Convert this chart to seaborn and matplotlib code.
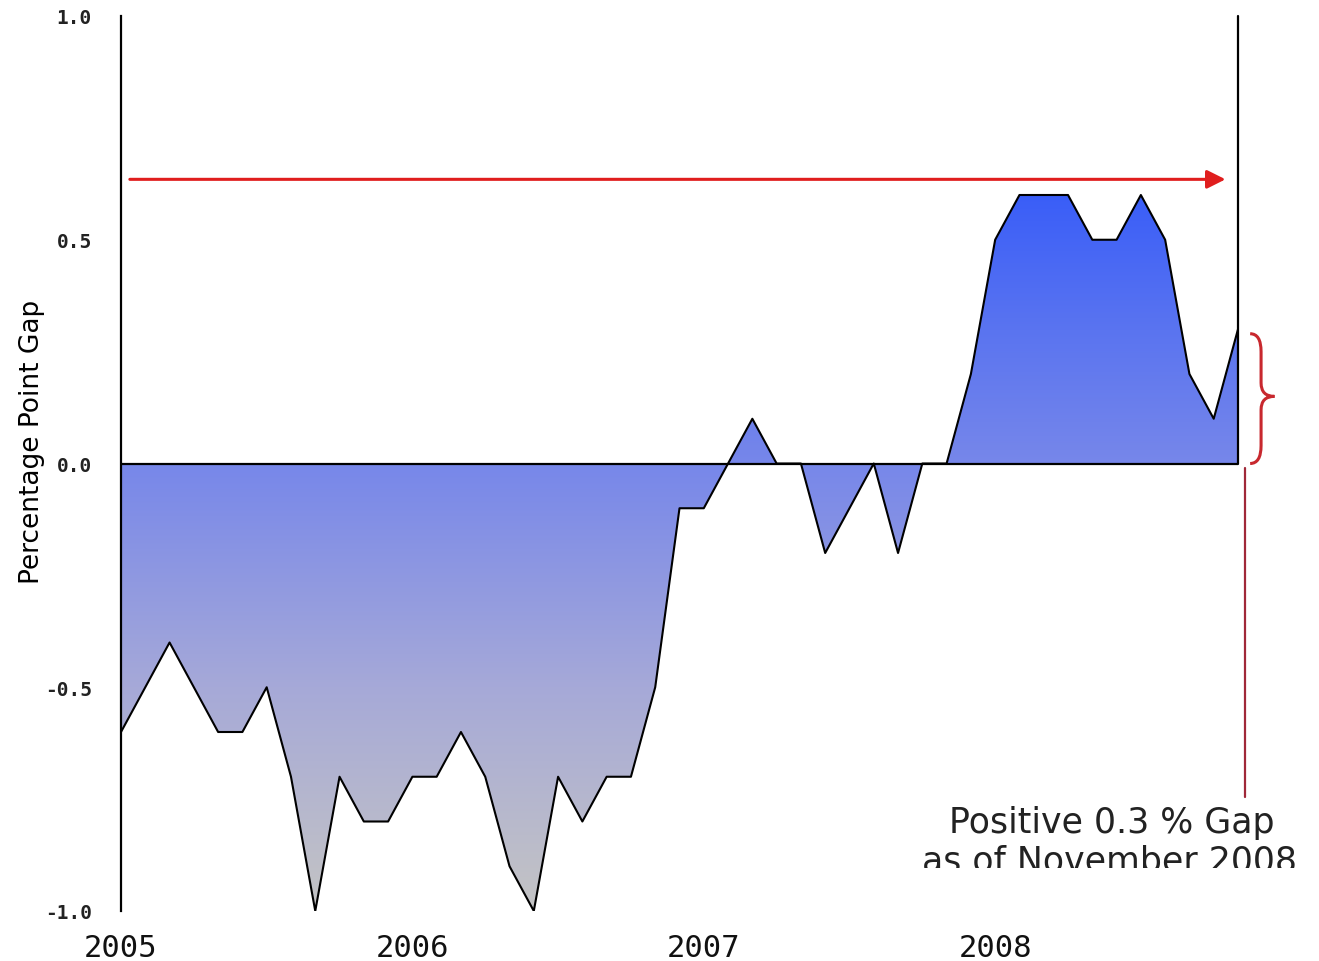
import numpy as np
import pandas as pd
import matplotlib
matplotlib.use("Agg")
import matplotlib.pyplot as plt
from matplotlib.colors import LinearSegmentedColormap
from matplotlib.patches import PathPatch, FancyArrowPatch
from matplotlib.path import Path
from matplotlib.transforms import Bbox
import seaborn as sns

# Monthly percentage-point gap, January 2005 through November 2008
gap = [-0.6, -0.5, -0.4, -0.5, -0.6, -0.6, -0.5, -0.7, -1.0, -0.7, -0.8, -0.8,
       -0.7, -0.7, -0.6, -0.7, -0.9, -1.0, -0.7, -0.8, -0.7, -0.7, -0.5, -0.1,
       -0.1, 0.0, 0.1, 0.0, 0.0, -0.2, -0.1, 0.0, -0.2, 0.0, 0.0, 0.2,
       0.5, 0.6, 0.6, 0.6, 0.5, 0.5, 0.6, 0.5, 0.2, 0.1, 0.3]
year_labels = ["2005", "2006", "2007", "2008"]
y_ticks = [1.0, 0.5, 0.0, -0.5, -1.0]
latest_gap = 0.3
arrow_level = 0.635

df = pd.DataFrame({"month": np.arange(len(gap)), "gap": gap})
n_last = len(gap) - 1

sns.set_theme(style="white")
plt.rcParams["font.family"] = ["DejaVu Sans"]

W, H = 1319, 962
fig = plt.figure(figsize=(W / 100, H / 100), dpi=100)
ax = fig.add_axes([121 / W, 50 / H, (1238 - 121) / W, (912 - 17) / H])
ax.set_xlim(0, n_last)
ax.set_ylim(-1.0, 1.0)

# Area between the series and zero, filled with a vertical blue-to-grey gradient
poly = ax.fill_between(df["month"], df["gap"], 0, facecolor="none",
                       edgecolor="none", zorder=1)
cmap = LinearSegmentedColormap.from_list(
    "gapfill",
    [(0.0, "#c4c4c4"), (0.3125, "#a6a9d8"), (0.625, "#7787ea"),
     (0.8125, "#5a74f0"), (1.0, "#3a5ef8")])
grad = np.linspace(0, 1, 256).reshape(-1, 1)
im = ax.imshow(grad, extent=[0, n_last, -1.0, 0.6], origin="lower",
               aspect="auto", cmap=cmap, zorder=1, interpolation="bilinear")
clip = PathPatch(poly.get_paths()[0], transform=ax.transData,
                 facecolor="none", edgecolor="none")
ax.add_patch(clip)
im.set_clip_path(clip)

# Outline of the series and the zero baseline
sns.lineplot(data=df, x="month", y="gap", ax=ax, color="black",
             linewidth=1.5, zorder=3)
ax.axhline(0, color="black", linewidth=1.6, zorder=3)
ax.plot([n_last, n_last], [0, 1.0], color="black", linewidth=1.6,
        zorder=3, clip_on=False)

# Spines and ticks
for side in ["top", "right", "bottom"]:
    ax.spines[side].set_visible(False)
ax.spines["left"].set_color("black")
ax.spines["left"].set_linewidth(1.6)
ax.set_yticks(y_ticks)
ax.set_yticklabels([f"{v:.1f}" for v in y_ticks], family="DejaVu Sans Mono",
                   fontsize=14, fontweight="bold", color="#222222")
ax.set_xticks([0, 12, 24, 36])
ax.set_xticklabels(year_labels, family="DejaVu Sans Mono", fontsize=22,
                   color="#111111")
ax.tick_params(axis="y", length=0, pad=21)
ax.tick_params(axis="x", length=0, pad=16)
ax.set_xlabel("")
ax.set_ylabel("Percentage Point Gap", fontsize=19, color="black")
ax.yaxis.set_label_coords(-0.068, 0.525)
ax.grid(False)

# Horizontal red arrow
arrow = FancyArrowPatch((0.25, arrow_level), (n_last - 0.4, arrow_level),
                        arrowstyle="-|>", mutation_scale=28, color="#e01e1e",
                        linewidth=2.2, zorder=4)
ax.add_patch(arrow)

# Brace marking the latest gap
bx = n_last + 0.5
mid = latest_gap / 2
verts = [(bx, latest_gap - 0.01),
         (bx + 0.45, latest_gap - 0.01), (bx + 0.45, latest_gap - 0.05),
         (bx + 0.45, mid + 0.03),
         (bx + 0.45, mid), (bx + 1.0, mid),
         (bx + 0.45, mid), (bx + 0.45, mid - 0.03),
         (bx + 0.45, 0.04),
         (bx + 0.45, 0.0), (bx, 0.0)]
codes = [Path.MOVETO,
         Path.CURVE3, Path.CURVE3,
         Path.LINETO,
         Path.CURVE3, Path.CURVE3,
         Path.CURVE3, Path.CURVE3,
         Path.LINETO,
         Path.CURVE3, Path.CURVE3]
brace = PathPatch(Path(verts, codes), facecolor="none", edgecolor="#c8282e",
                  linewidth=2.2, transform=ax.transData, clip_on=False, zorder=4)
ax.add_patch(brace)

# Leader line down to the note
ax.plot([n_last + 0.3, n_last + 0.3], [-0.01, -0.745], color="#a02838",
        linewidth=1.6, clip_on=False, zorder=4)

fig.text(1112 / W, 1 - 833 / H, "Positive 0.3 % Gap", ha="center",
         va="baseline", fontsize=25, color="#222222")
t2 = fig.text(1109 / W, 1 - 872 / H, "as of November 2008", ha="center",
              va="baseline", fontsize=25, color="#222222")
t2.set_clip_on(True)
t2.set_clip_box(Bbox([[0, H - 869], [W, H]]))

fig.savefig("out.png", dpi=100)
